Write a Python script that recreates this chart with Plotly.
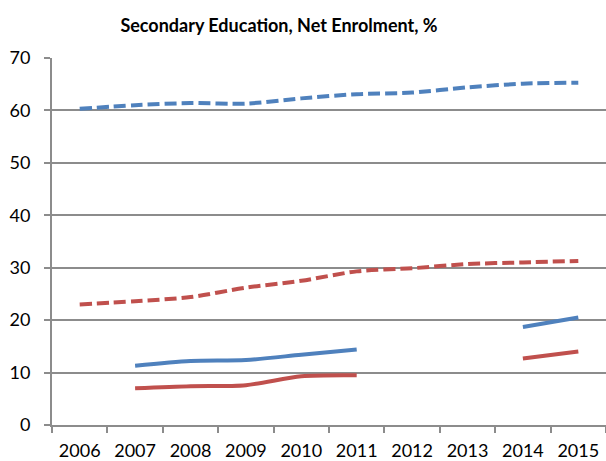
import plotly.graph_objects as go

years = ["2006", "2007", "2008", "2009", "2010", "2011", "2012", "2013", "2014", "2015"]
blue_dashed = [60.3, 61.0, 61.4, 61.3, 62.3, 63.1, 63.4, 64.4, 65.1, 65.3]
red_dashed = [23.0, 23.6, 24.4, 26.2, 27.5, 29.3, 29.9, 30.7, 31.0, 31.3]
blue_solid = [None, 11.3, 12.2, 12.4, 13.4, 14.4, None, None, 18.7, 20.5]
red_solid = [None, 7.0, 7.4, 7.6, 9.3, 9.5, None, None, 12.7, 14.0]
y_ticks = [0, 10, 20, 30, 40, 50, 60, 70]

BLUE = "#4F81BD"
RED = "#C0504D"
GRID = "#8C8C8C"
FONT = "Lato"

fig = go.Figure()
for vals, col, dash in [
    (blue_dashed, BLUE, "12px,5px"),
    (red_dashed, RED, "12px,5px"),
    (blue_solid, BLUE, "solid"),
    (red_solid, RED, "solid"),
]:
    fig.add_trace(go.Scatter(
        x=years, y=vals, mode="lines", connectgaps=False,
        line=dict(color=col, width=4, dash=dash, shape="spline", smoothing=0.8),
        showlegend=False, hoverinfo="skip",
    ))

fig.update_layout(
    width=606, height=461,
    margin=dict(l=52, r=0, t=58, b=34),
    paper_bgcolor="white", plot_bgcolor="white",
    title=dict(text="<b>Secondary Education, Net Enrolment, %</b>",
               x=279 / 606, xanchor="center", y=1 - 26 / 461, yanchor="middle",
               font=dict(family=FONT, size=18, color="#000000")),
    font=dict(family=FONT, size=18, color="#000000"),
)
fig.update_xaxes(
    type="category", range=[-0.5, 9.5],
    showgrid=False, showline=True, linecolor=GRID, linewidth=2,
    ticks="outside", ticklen=6, tickwidth=2, tickcolor=GRID,
    tickson="boundaries", ticklabelstandoff=8,
    tickfont=dict(family=FONT, size=18, color="#000000"),
)
fig.update_yaxes(
    range=[0, 70], tickvals=y_ticks,
    showgrid=True, gridcolor=GRID, gridwidth=1.5,
    showline=True, linecolor=GRID, linewidth=2,
    ticks="outside", ticklen=6, tickwidth=2, tickcolor=GRID,
    ticklabelstandoff=10, zeroline=False,
    tickfont=dict(family=FONT, size=18, color="#000000"),
)
fig.write_html("out.html")
